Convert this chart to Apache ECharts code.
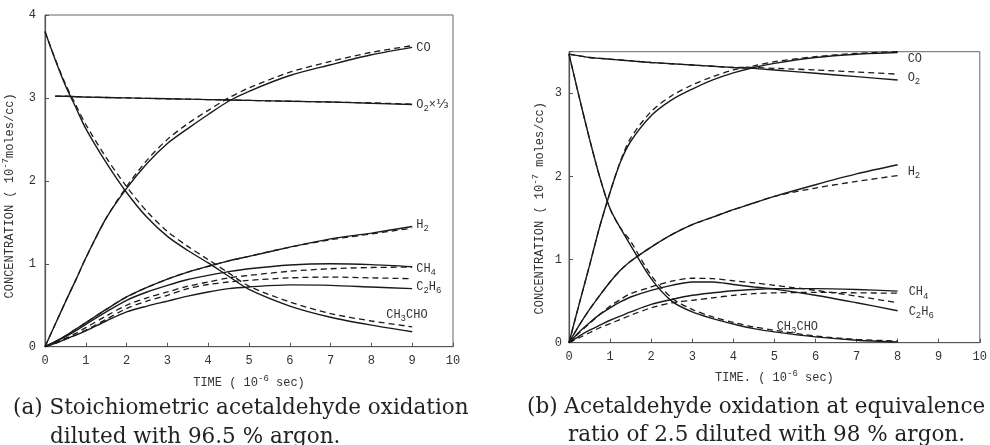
<!DOCTYPE html>
<html>
<head>
<meta charset="utf-8">
<script src="https://cdn.jsdelivr.net/npm/echarts@6/dist/echarts.min.js"></script>
<style>
  html, body { margin: 0; padding: 0; background: #fff; }
  #chart { width: 990px; height: 445px; }
</style>
</head>
<body>
<div id="chart"></div>
<script>
// ---- (a) stoichiometric mixture, 96.5 % argon ----
const timeA = [0, 0.25, 0.5, 0.75, 1, 1.5, 2, 2.5, 3, 3.5, 4, 4.5, 5, 6, 7, 8, 9];
const coA_calc     = [0, 0.27, 0.54, 0.80, 1.07, 1.55, 1.91, 2.21, 2.45, 2.63, 2.80, 2.96, 3.08, 3.27, 3.40, 3.52, 3.61];
const coA_exp      = [0, 0.27, 0.54, 0.80, 1.07, 1.55, 1.93, 2.25, 2.50, 2.69, 2.85, 3.00, 3.12, 3.31, 3.44, 3.55, 3.63];
const o2A_calc     = [null, 3.02, 3.02, 3.015, 3.01, 3.005, 3.0, 2.995, 2.99, 2.985, 2.98, 2.975, 2.97, 2.96, 2.95, 2.935, 2.92];
const o2A_exp      = [null, 3.02, 3.02, 3.015, 3.01, 3.005, 3.0, 2.995, 2.99, 2.985, 2.98, 2.975, 2.97, 2.96, 2.95, 2.94, 2.925];
const h2A_calc     = [0, 0.06, 0.13, 0.21, 0.29, 0.45, 0.60, 0.715, 0.815, 0.90, 0.97, 1.035, 1.09, 1.20, 1.30, 1.37, 1.45];
const h2A_exp      = [0, 0.06, 0.13, 0.21, 0.29, 0.45, 0.60, 0.715, 0.815, 0.90, 0.97, 1.035, 1.09, 1.20, 1.29, 1.36, 1.43];
const ch4A_calc    = [0, 0.06, 0.12, 0.19, 0.27, 0.42, 0.56, 0.66, 0.74, 0.81, 0.86, 0.905, 0.94, 0.985, 1.0, 0.99, 0.965];
const ch4A_exp     = [0, 0.05, 0.10, 0.16, 0.23, 0.37, 0.50, 0.59, 0.66, 0.73, 0.78, 0.83, 0.86, 0.91, 0.94, 0.955, 0.96];
const c2h6A_calc   = [0, 0.04, 0.09, 0.14, 0.19, 0.31, 0.42, 0.49, 0.55, 0.61, 0.66, 0.70, 0.72, 0.745, 0.74, 0.72, 0.70];
const c2h6A_exp    = [0, 0.04, 0.09, 0.14, 0.20, 0.33, 0.46, 0.55, 0.62, 0.70, 0.75, 0.78, 0.80, 0.83, 0.84, 0.83, 0.82];
const ch3choA_calc = [3.80, 3.46, 3.15, 2.89, 2.63, 2.22, 1.86, 1.56, 1.33, 1.16, 1.01, 0.85, 0.69, 0.49, 0.355, 0.26, 0.18];
const ch3choA_exp  = [3.80, 3.47, 3.17, 2.92, 2.68, 2.28, 1.93, 1.63, 1.39, 1.21, 1.05, 0.89, 0.73, 0.54, 0.40, 0.31, 0.24];

// ---- (b) equivalence ratio 2.5, 98 % argon ----
const timeB = [0, 0.25, 0.5, 0.75, 1, 1.25, 1.5, 2, 2.5, 3, 3.5, 4, 4.5, 5, 6, 7, 8];
const coB_calc     = [0, 0.47, 0.93, 1.40, 1.81, 2.17, 2.42, 2.73, 2.92, 3.05, 3.16, 3.245, 3.31, 3.36, 3.43, 3.47, 3.49];
const coB_exp      = [0, 0.47, 0.93, 1.40, 1.81, 2.18, 2.46, 2.78, 2.97, 3.10, 3.20, 3.28, 3.33, 3.38, 3.44, 3.48, 3.50];
const o2B_calc     = [3.47, 3.45, 3.43, 3.42, 3.41, 3.40, 3.39, 3.37, 3.355, 3.34, 3.325, 3.31, 3.30, 3.28, 3.24, 3.20, 3.16];
const o2B_exp      = [3.47, 3.45, 3.43, 3.42, 3.41, 3.40, 3.39, 3.37, 3.355, 3.34, 3.325, 3.31, 3.31, 3.30, 3.28, 3.255, 3.23];
const h2B_calc     = [0, 0.21, 0.40, 0.57, 0.73, 0.87, 0.98, 1.15, 1.30, 1.42, 1.51, 1.60, 1.68, 1.76, 1.90, 2.03, 2.14];
const h2B_exp      = [0, 0.21, 0.40, 0.57, 0.73, 0.87, 0.98, 1.15, 1.30, 1.42, 1.51, 1.60, 1.68, 1.76, 1.86, 1.94, 2.01];
const ch4B_calc    = [0, 0.08, 0.15, 0.21, 0.27, 0.32, 0.37, 0.46, 0.52, 0.57, 0.60, 0.625, 0.64, 0.65, 0.65, 0.64, 0.62];
const ch4B_exp     = [0, 0.06, 0.12, 0.18, 0.23, 0.28, 0.33, 0.42, 0.48, 0.51, 0.54, 0.57, 0.59, 0.60, 0.605, 0.60, 0.595];
const c2h6B_calc   = [0, 0.13, 0.24, 0.34, 0.42, 0.49, 0.55, 0.63, 0.69, 0.73, 0.73, 0.70, 0.67, 0.645, 0.57, 0.48, 0.385];
const c2h6B_exp    = [0, 0.12, 0.23, 0.34, 0.44, 0.52, 0.59, 0.67, 0.74, 0.775, 0.77, 0.745, 0.72, 0.69, 0.63, 0.56, 0.48];
const ch3choB_calc = [3.47, 2.95, 2.45, 1.99, 1.61, 1.38, 1.17, 0.77, 0.50, 0.37, 0.29, 0.225, 0.17, 0.13, 0.07, 0.03, 0.01];
const ch3choB_exp  = [3.47, 2.95, 2.45, 1.99, 1.61, 1.38, 1.22, 0.81, 0.54, 0.40, 0.31, 0.245, 0.19, 0.15, 0.08, 0.04, 0.02];

// axis ticks
const timeTicks = [0, 1, 2, 3, 4, 5, 6, 7, 8, 9, 10];
const concTicksA = [0, 1, 2, 3, 4];
const concTicksB = [0, 1, 2, 3];

const MONO = '"Liberation Mono", "DejaVu Sans Mono", monospace';
const SERIF = '"DejaVu Serif", "Liberation Serif", serif';
const INK = '#1a1a1a';
const AXIS = '#555';

const rich = {
  n: { fontFamily: MONO, fontSize: 12, color: '#333' },
  s: { fontFamily: MONO, fontSize: 9, color: '#333', padding: [8, 0, 0, 0] },
  p: { fontFamily: MONO, fontSize: 9, color: '#333', padding: [0, 0, 9, 0] },
  f: { fontFamily: '"DejaVu Sans", sans-serif', fontSize: 13, color: '#333' }
};

function pairs(t, v) {
  const out = [];
  t.forEach((x, i) => { if (v[i] !== null) out.push([x, v[i]]); });
  return out;
}

function curve(idx, t, v, dashed, label) {
  const s = {
    type: 'line',
    xAxisIndex: idx, yAxisIndex: idx,
    data: pairs(t, v),
    showSymbol: false,
    smooth: 0.3,
    silent: true,
    lineStyle: { color: INK, width: dashed ? 1.3 : 1.4, type: dashed ? [6, 4] : 'solid' },
    z: dashed ? 3 : 4
  };
  if (label) {
    s.endLabel = {
      show: true,
      formatter: label.text,
      rich: rich,
      distance: 4,
      offset: label.offset || [0, 0],
      align: 'left',
      verticalAlign: 'middle'
    };
  }
  return s;
}

function xAxis(idx) {
  return {
    gridIndex: idx, type: 'value', min: 0, max: 10, interval: 1,
    name: idx === 0 ? '{n|TIME ( 10}{p|-6}{n| sec)}' : '{n|TIME. ( 10}{p|-6}{n| sec)}',
    nameLocation: 'middle', nameGap: idx === 0 ? 27 : 26,
    nameTextStyle: { rich: rich },
    axisLine: { lineStyle: { color: AXIS, width: 1.2 } },
    axisTick: { inside: true, length: 4, lineStyle: { color: AXIS } },
    axisLabel: { fontFamily: MONO, fontSize: 12, color: '#333', margin: 8,
      formatter: v => timeTicks.includes(v) ? String(v) : '' },
    splitLine: { show: false }
  };
}

function yAxis(idx, max, ticks) {
  return {
    gridIndex: idx, type: 'value', min: 0, max: max, interval: 1,
    name: '{n|CONCENTRATION ( 10}{p|-7}{n|' + (idx === 0 ? '' : ' ') + 'moles/cc)}',
    nameLocation: 'middle', nameGap: idx === 0 ? 26 : 20,
    nameTextStyle: { rich: rich, padding: idx === 0 ? [0, 30, 0, 0] : [0, 22, 0, 0] },
    axisLine: { lineStyle: { color: AXIS, width: 1.2 } },
    axisTick: { inside: true, length: 4, lineStyle: { color: AXIS } },
    axisLabel: { fontFamily: MONO, fontSize: 12, color: '#333', margin: idx === 0 ? 9 : 7,
      formatter: v => ticks.includes(v) ? String(v) : '' },
    splitLine: { show: false }
  };
}

const chart = echarts.init(document.getElementById('chart'), null, { renderer: 'canvas' });

const series = [
  // (a)
  curve(0, timeA, coA_calc, false, { text: '{n|CO}' }),
  curve(0, timeA, coA_exp, true),
  curve(0, timeA, o2A_calc, false, { text: '{n|O}{s|2}{n|×}{f|⅓}' }),
  curve(0, timeA, o2A_exp, true),
  curve(0, timeA, h2A_calc, false, { text: '{n|H}{s|2}', offset: [0, -2] }),
  curve(0, timeA, h2A_exp, true),
  curve(0, timeA, ch4A_calc, false, { text: '{n|CH}{s|4}', offset: [0, 2] }),
  curve(0, timeA, ch4A_exp, true),
  curve(0, timeA, c2h6A_calc, false, { text: '{n|C}{s|2}{n|H}{s|6}', offset: [0, -2] }),
  curve(0, timeA, c2h6A_exp, true),
  curve(0, timeA, ch3choA_calc, false, { text: '{n|CH}{s|3}{n|CHO}', offset: [-30, -17] }),
  curve(0, timeA, ch3choA_exp, true),
  // (b)
  curve(1, timeB, coB_calc, false, { text: '{n|CO}', offset: [6, 6] }),
  curve(1, timeB, coB_exp, true),
  curve(1, timeB, o2B_calc, false, { text: '{n|O}{s|2}', offset: [6, -2] }),
  curve(1, timeB, o2B_exp, true),
  curve(1, timeB, h2B_calc, false, { text: '{n|H}{s|2}', offset: [6, 7] }),
  curve(1, timeB, h2B_exp, true),
  curve(1, timeB, ch4B_calc, false, { text: '{n|CH}{s|4}', offset: [7, 1] }),
  curve(1, timeB, ch4B_exp, true),
  curve(1, timeB, c2h6B_calc, false, { text: '{n|C}{s|2}{n|H}{s|6}', offset: [7, 1] }),
  curve(1, timeB, c2h6B_exp, true),
  curve(1, timeB, ch3choB_calc, false, { text: '{n|CH}{s|3}{n|CHO}', offset: [-125, -15] }),
  curve(1, timeB, ch3choB_exp, true)
];

const CAPTION_FONT = '21.5px ' + SERIF;

chart.setOption({
  animation: false,
  backgroundColor: '#fff',
  grid: [
    { left: 42.5, top: 15, width: 410.5, height: 331.7, show: true, borderColor: '#666', borderWidth: 1 },
    { left: 569, top: 51.7, width: 412, height: 291, show: true, borderColor: '#666', borderWidth: 1 }
  ],
  xAxis: [xAxis(0), xAxis(1)],
  yAxis: [yAxis(0, 4, concTicksA), yAxis(1, 3.5, concTicksB)],
  series: series,
  graphic: [
    { type: 'text', x: 13, y: 408, style: { text: '(a) Stoichiometric acetaldehyde oxidation', font: CAPTION_FONT, fill: '#222', verticalAlign: 'middle' } },
    { type: 'text', x: 50, y: 437, style: { text: 'diluted with 96.5 % argon.', font: CAPTION_FONT, fill: '#222', verticalAlign: 'middle' } },
    { type: 'text', x: 527, y: 407, style: { text: '(b) Acetaldehyde oxidation at equivalence', font: CAPTION_FONT, fill: '#222', verticalAlign: 'middle' } },
    { type: 'text', x: 568, y: 435, style: { text: 'ratio of 2.5 diluted with 98 % argon.', font: CAPTION_FONT, fill: '#222', verticalAlign: 'middle' } }
  ]
});
</script>
</body>
</html>
